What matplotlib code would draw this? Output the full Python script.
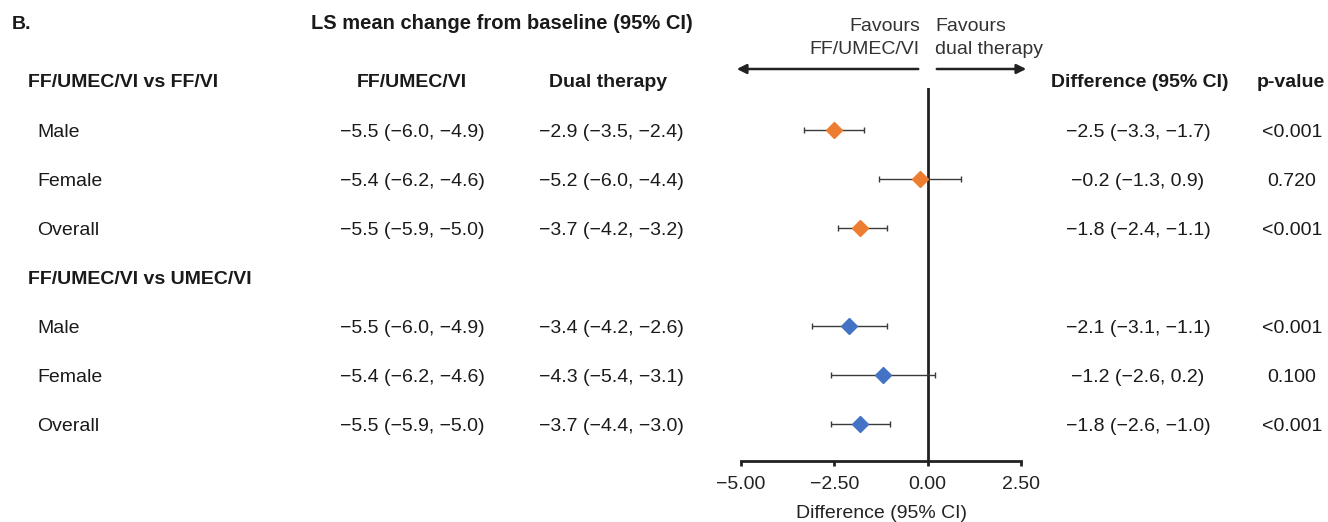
import matplotlib.pyplot as plt
from matplotlib.transforms import blended_transform_factory

plt.rcParams['font.family'] = ['Liberation Sans', 'DejaVu Sans']

# data
groups = ['FF/UMEC/VI vs FF/VI', 'FF/UMEC/VI vs UMEC/VI']
subgroups = ['Male', 'Female', 'Overall']
triple_txt = ['\u22125.5 (\u22126.0, \u22124.9)', '\u22125.4 (\u22126.2, \u22124.6)', '\u22125.5 (\u22125.9, \u22125.0)',
              '\u22125.5 (\u22126.0, \u22124.9)', '\u22125.4 (\u22126.2, \u22124.6)', '\u22125.5 (\u22125.9, \u22125.0)']
dual_txt = ['\u22122.9 (\u22123.5, \u22122.4)', '\u22125.2 (\u22126.0, \u22124.4)', '\u22123.7 (\u22124.2, \u22123.2)',
            '\u22123.4 (\u22124.2, \u22122.6)', '\u22124.3 (\u22125.4, \u22123.1)', '\u22123.7 (\u22124.4, \u22123.0)']
diff = [-2.5, -0.2, -1.8, -2.1, -1.2, -1.8]
diff_lo = [-3.3, -1.3, -2.4, -3.1, -2.6, -2.6]
diff_hi = [-1.7, 0.9, -1.1, -1.1, 0.2, -1.0]
pvals = ['<0.001', '0.720', '<0.001', '<0.001', '0.100', '<0.001']
colors = ['#ED7D31', '#4472C4']
xticks = [-5.0, -2.5, 0.0, 2.5]

W, H = 1328, 522
fig = plt.figure(figsize=(W / 100, H / 100), dpi=100)

def fx(px):
    return px / W

def fy(py):
    return 1 - py / H

# forest axes: -5 -> 741px, 2.5 -> 1021px; top 88px, bottom 461px
ax = fig.add_axes([fx(741), fy(461), fx(280), (461 - 88) / H])
ax.set_xlim(-5, 2.5)
row_y = [0, 1, 2, 4, 5, 6]  # row 3 = second group header
ax.set_ylim(331 / 49, -42 / 49)

for i in range(6):
    c = colors[0] if i < 3 else colors[1]
    ax.errorbar(diff[i], row_y[i], xerr=[[diff[i] - diff_lo[i]], [diff_hi[i] - diff[i]]],
                fmt='none', ecolor='#3a3a3a', elinewidth=1, capsize=2.3, capthick=1, zorder=2)
    ax.plot(diff[i], row_y[i], marker='D', color=c, markersize=8.6, linestyle='none', zorder=3)

ax.axvline(0, color='#222222', linewidth=2, zorder=1)
for s in ['top', 'right', 'left']:
    ax.spines[s].set_visible(False)
ax.spines['bottom'].set_linewidth(2)
ax.spines['bottom'].set_color('#222222')
ax.set_yticks([])
ax.set_xticks(xticks)
ax.set_xticklabels(['\u22125.00', '\u22122.50', '0.00', '2.50'])
ax.tick_params(axis='x', direction='out', length=3.6, width=2, color='#222222', labelsize=14,
               labelcolor='#222222', pad=7.5)

tr = blended_transform_factory(fig.transFigure, ax.transData)
fs = 14
tc = '#1a1a1a'
off = 7 / 49  # baseline offset below row centre

def row_of(px):
    return (px - 130) / 49

fig.text(fx(882), fy(513), 'Difference (95% CI)', fontsize=14, color='#222222',
         ha='center', va='center')

# headers
fig.text(fx(12), fy(29), 'B.', fontsize=fs, fontweight='bold', va='baseline', ha='left', color=tc)
fig.text(fx(502), fy(29), 'LS mean change from baseline (95% CI)', fontsize=fs + 0.5,
         fontweight='bold', va='baseline', ha='center', color=tc)
hy = row_of(80) + off
ax.text(fx(28), hy, groups[0], transform=tr, fontsize=fs, fontweight='bold', va='baseline', ha='left', color=tc)
ax.text(fx(412), hy, 'FF/UMEC/VI', transform=tr, fontsize=fs, fontweight='bold', va='baseline', ha='center', color=tc)
ax.text(fx(608), hy, 'Dual therapy', transform=tr, fontsize=fs, fontweight='bold', va='baseline', ha='center',
        color=tc)
ax.text(fx(1140), hy, 'Difference (95% CI)', transform=tr, fontsize=fs, fontweight='bold', va='baseline',
        ha='center', color=tc)
ax.text(fx(1291), hy, 'p-value', transform=tr, fontsize=fs, fontweight='bold', va='baseline', ha='center',
        color=tc)
ax.text(fx(28), 3 + off, groups[1], transform=tr, fontsize=fs, fontweight='bold', va='baseline', ha='left',
        color=tc)

for i in range(6):
    y = row_y[i] + off
    ax.text(fx(37), y, subgroups[i % 3], transform=tr, fontsize=fs, va='baseline', ha='left', color=tc)
    ax.text(fx(412), y, triple_txt[i], transform=tr, fontsize=fs, va='baseline', ha='center', color=tc)
    ax.text(fx(611), y, dual_txt[i], transform=tr, fontsize=fs, va='baseline', ha='center', color=tc)
    ax.text(fx(1138), y, f'{diff[i]:.1f} ({diff_lo[i]:.1f}, {diff_hi[i]:.1f})'.replace('-', '\u2212'),
            transform=tr, fontsize=fs, va='baseline', ha='center', color=tc)
    ax.text(fx(1292), y, pvals[i], transform=tr, fontsize=fs, va='baseline', ha='center', color=tc)

# favours labels and arrows
fav_l = ['Favours', 'FF/UMEC/VI']
fav_r = ['Favours', 'dual therapy']
for k, py in enumerate([31, 54]):
    fig.text(fx(920), fy(py), fav_l[k], fontsize=fs, color='#333333', va='baseline', ha='right')
    fig.text(fx(935), fy(py), fav_r[k], fontsize=fs, color='#333333', va='baseline', ha='left')
arrowprops = dict(arrowstyle='-|>', color='#222222', lw=1.8, mutation_scale=14)
ax.annotate('', xy=(fx(734), fy(69)), xytext=(fx(921), fy(69)),
            xycoords='figure fraction', textcoords='figure fraction', arrowprops=arrowprops)
ax.annotate('', xy=(fx(1029), fy(69)), xytext=(fx(934), fy(69)),
            xycoords='figure fraction', textcoords='figure fraction', arrowprops=arrowprops)

fig.savefig('out.png', dpi=100)
